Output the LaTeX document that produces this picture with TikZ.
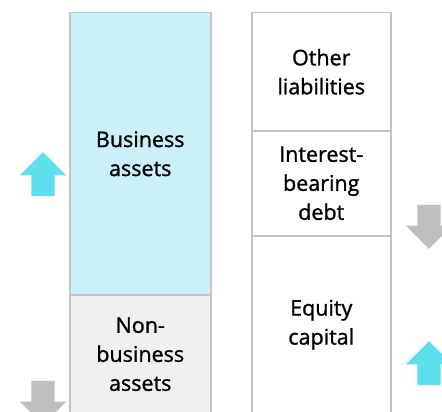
\documentclass[tikz,border=0pt]{standalone}
\usepackage{fontspec}
\setmainfont[FakeBold=1.2]{Open Sans}
\usepackage{tikz}
\usetikzlibrary{shapes.arrows}

\definecolor{boxline}{HTML}{C4C4C4}
\definecolor{busfill}{HTML}{C9F1F7}
\definecolor{nonfill}{HTML}{F0F0F0}
\definecolor{upcyan}{HTML}{5DE0EE}
\definecolor{downgray}{HTML}{BFBFBF}

\tikzset{
  bal/.style={draw=boxline, line width=1.5pt, align=center, inner sep=0pt,
    font=\fontsize{21.5}{29}\selectfont},
  uparrow/.style={single arrow, shape border rotate=90, fill=upcyan, draw=none,
    minimum height=44pt, minimum width=46pt, inner sep=11.5pt, single arrow head extend=11.5pt},
  downarrow/.style={uparrow, shape border rotate=270, fill=downgray}
}

\begin{document}
\begin{tikzpicture}[x=1pt,y=-1pt]
\useasboundingbox (0,0) rectangle (442,412);
\clip (0,0) rectangle (442,412);
% assets side
\node[bal, fill=busfill, minimum width=141pt, minimum height=282pt, anchor=north west] (bus) at (69,12) {Business\\assets};
\node[bal, fill=nonfill, minimum width=141pt, minimum height=119pt, anchor=north west] (non) at (69,294) {Non-\\business\\assets};
% liabilities side
\node[bal, minimum width=139pt, minimum height=118pt, anchor=north west] (oth) at (251,12) {Other\\liabilities};
\node[bal, minimum width=139pt, minimum height=105pt, anchor=north west] (debt) at (251,130) {Interest-\\bearing\\debt};
\node[bal, minimum width=139pt, minimum height=178pt, anchor=north west] (eq) at (251,235) {Equity\\capital};
% change arrows
\node[uparrow] (busup) at (43,180) {};
\node[downarrow] (nondown) at (43,397) {};
\node[downarrow] (debtdown) at (429,221) {};
\node[uparrow] (equp) at (429,369) {};
\end{tikzpicture}
\end{document}
